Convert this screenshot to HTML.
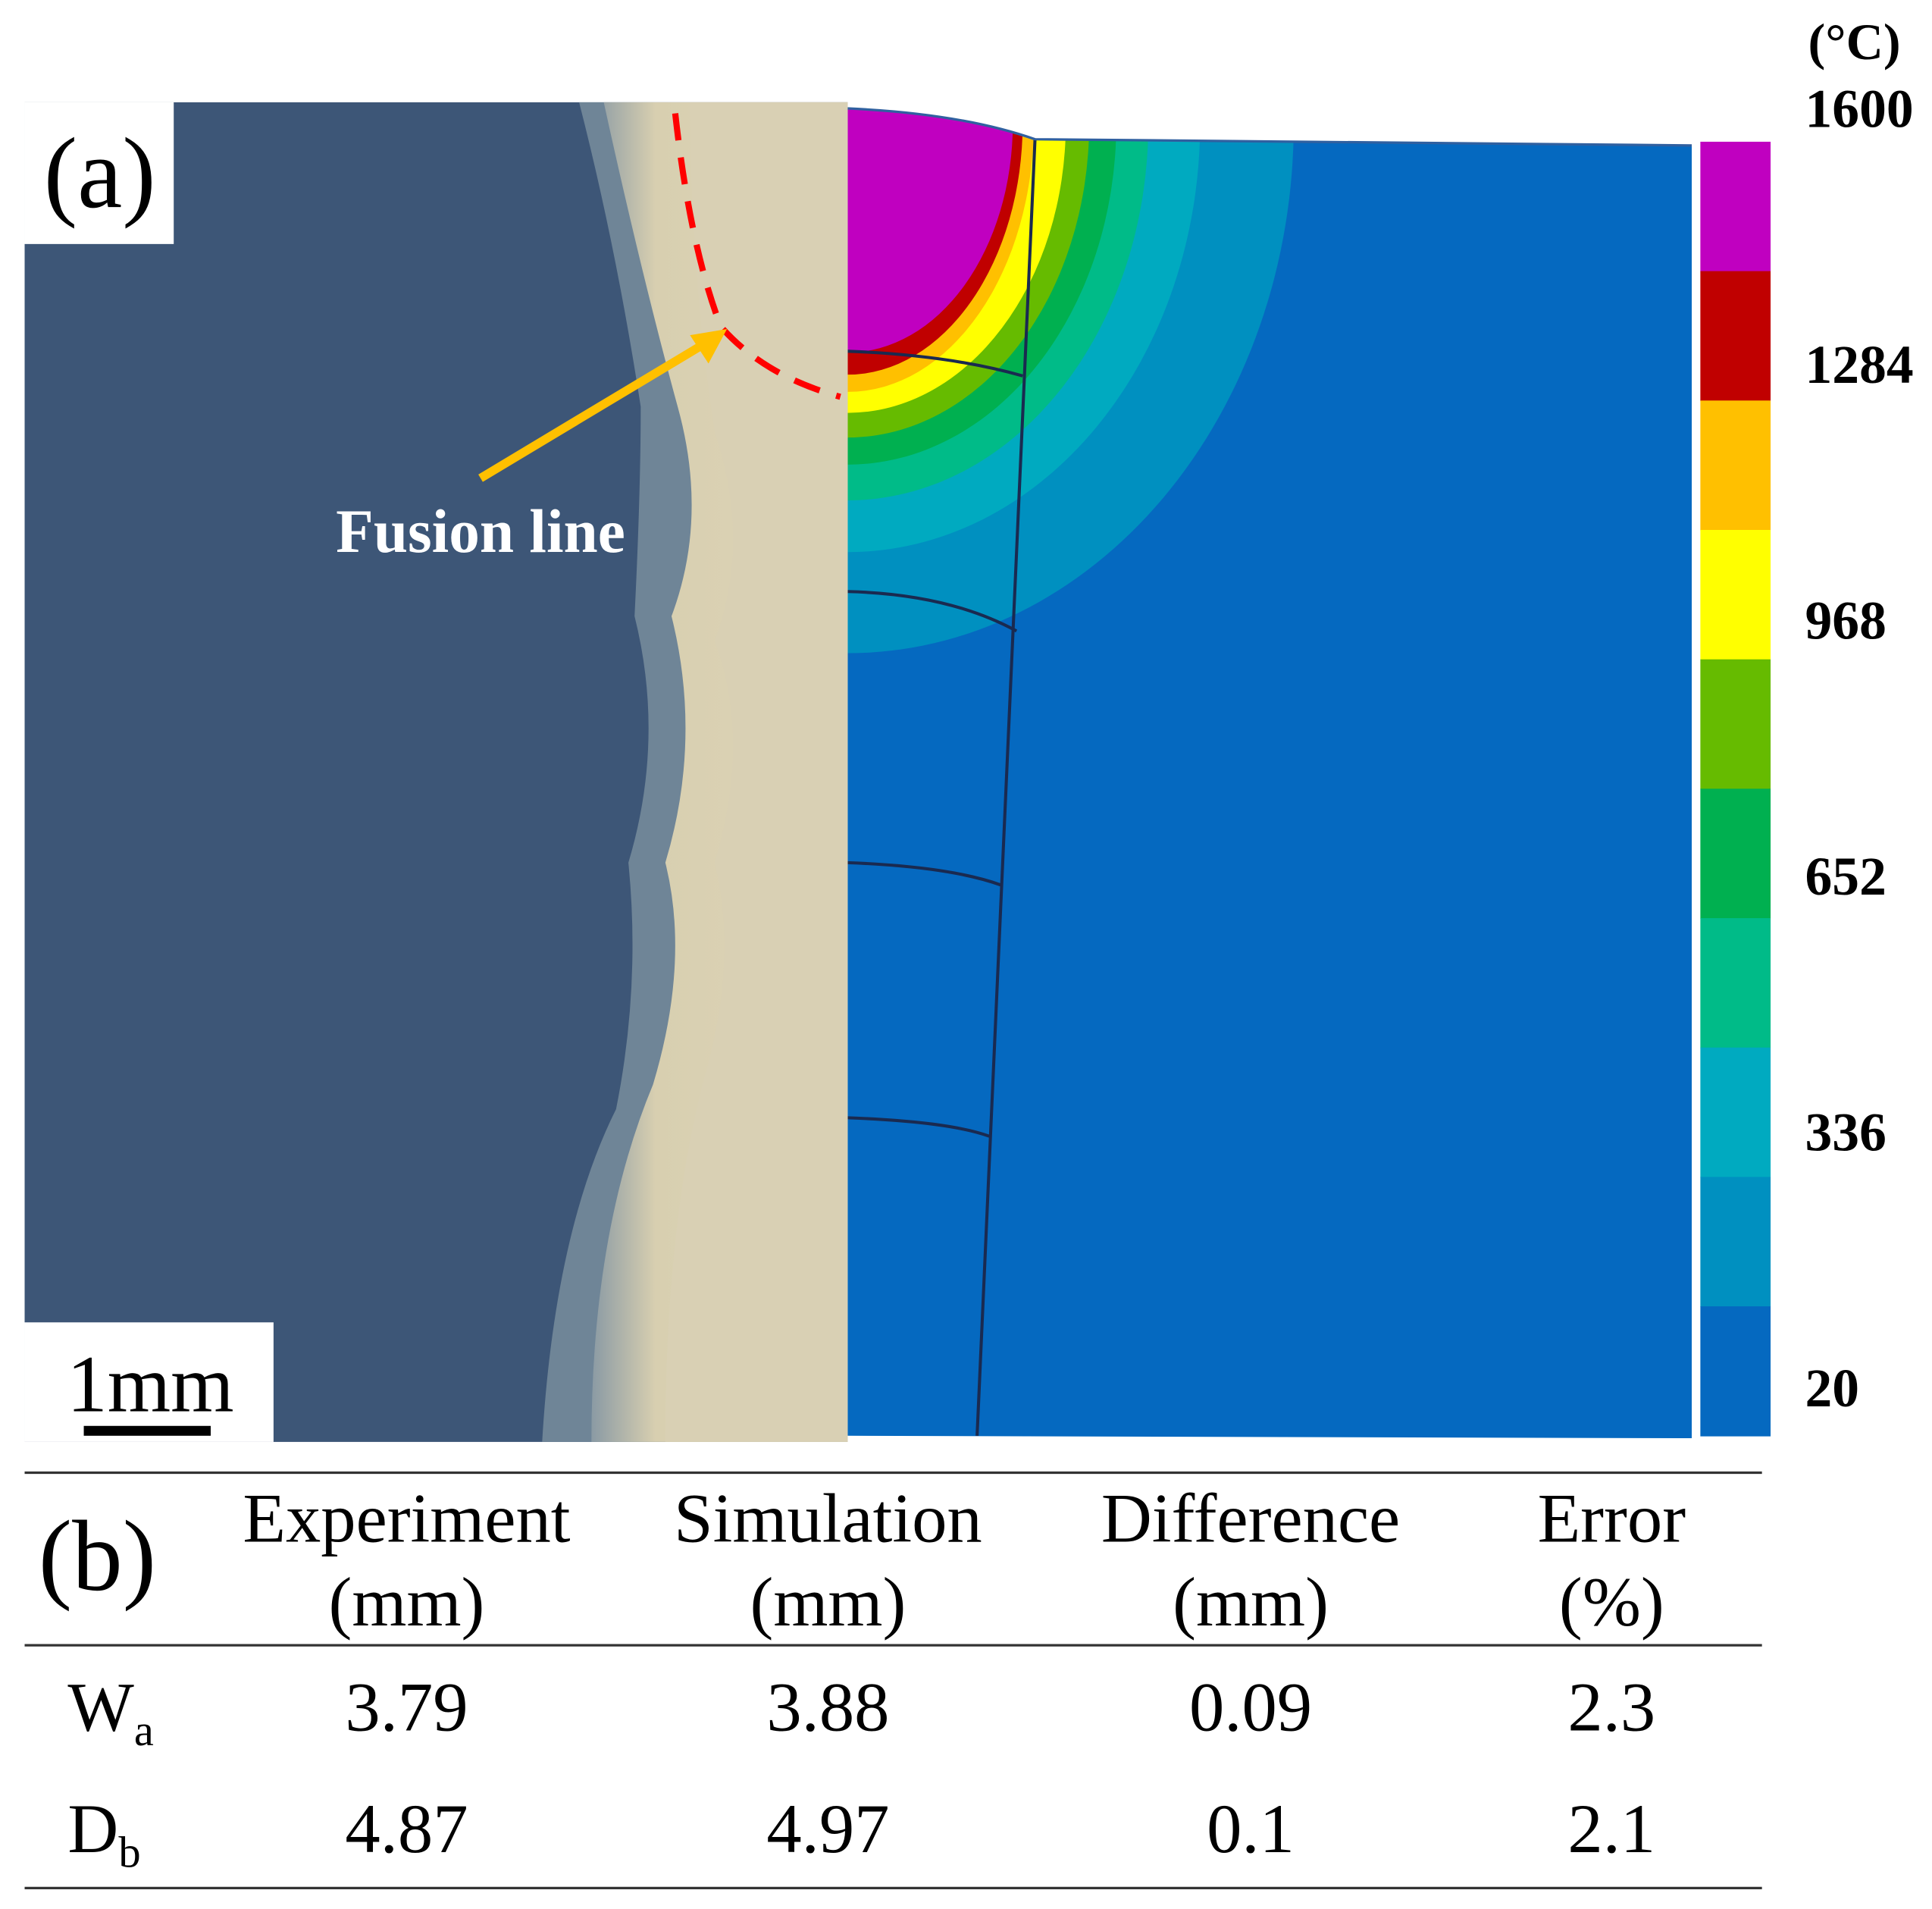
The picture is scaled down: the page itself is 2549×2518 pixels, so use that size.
<!DOCTYPE html>
<html><head><meta charset="utf-8"><style>
html,body{margin:0;padding:0;background:#fff;}
svg{display:block;}
text{font-family:"Liberation Serif",serif;}
</style></head><body>
<svg id="fig" width="2549" height="2518" viewBox="0 0 1568 1549" preserveAspectRatio="none" xmlns="http://www.w3.org/2000/svg">
<defs>
<clipPath id="simclip"><path d="M688,88 Q780,92 840,113 L1373,118 L1373,1167 L688,1165 Z"/></clipPath>
<linearGradient id="beige" x1="0" x2="1" y1="0" y2="0">
<stop offset="0" stop-color="#8a9aa4"/><stop offset="0.25" stop-color="#d8cfb0"/><stop offset="1" stop-color="#ddd4b8"/></linearGradient>
</defs>
<g>
<rect x="20" y="83" width="668" height="1087" fill="#3d5677"/>
<path d="M470,83 L688,83 L688,1170 L440,1170 Q450,1000 500,900 Q520,800 510,700 Q540,600 515,500 Q520,400 520,330 Q500,200 470,83 Z" fill="#6f8597"/>
<path d="M490,83 L688,83 L688,1170 L480,1170 Q480,1000 530,880 Q560,780 540,700 Q570,600 545,500 Q575,420 550,330 Q520,220 490,83 Z" fill="url(#beige)"/>
<path d="M560,83 L688,83 L688,1170 L540,1170 Q540,1000 570,880 Q600,780 580,700 Q610,600 580,520 Q610,440 580,350 Q560,220 560,83 Z" fill="#d9d0b4"/>
<path d="M548,92 Q560,200 585,265 Q620,305 682,322" fill="none" stroke="#ff0000" stroke-width="5" stroke-dasharray="22,14"/>
<line x1="390" y1="388" x2="570" y2="280" stroke="#ffc000" stroke-width="7"/>
<polygon points="590,267 560,272 575,295" fill="#ffc000"/>
<text x="390" y="448" font-size="50" font-weight="bold" fill="#fff" text-anchor="middle">Fusion line</text>
<rect x="20" y="83" width="121" height="115" fill="#fff"/>
<text x="81" y="168" font-size="82" text-anchor="middle">(a)</text>
<rect x="20" y="1073" width="202" height="97" fill="#fff"/>
<text x="122" y="1145" font-size="66" text-anchor="middle">1mm</text>
<rect x="68" y="1157" width="103" height="8" fill="#000"/>
</g>
<g clip-path="url(#simclip)">
<rect x="688" y="80" width="690" height="1090" fill="#0569c0"/>
<g id="contours"></g>
<g fill="none" stroke="#1a2a50" stroke-width="2.5">
<path d="M840,113 L793,1165"/>
<path d="M688,285 Q770,288 830,305"/>
<path d="M688,480 Q770,482 825,512"/>
<path d="M688,700 Q770,703 812,718"/>
<path d="M688,907 Q770,910 803,922"/>
</g>
</g>
<path d="M688,88 Q780,92 840,113 L1373,118" fill="none" stroke="#3060a0" stroke-width="2"/>
<g id="colorbar"></g>
<text x="1505" y="48" font-size="42" font-weight="bold" text-anchor="middle">(°C)</text>
<g id="table">
<line x1="20" y1="1195" x2="1430" y2="1195" stroke="#333" stroke-width="2"/>
<line x1="20" y1="1335" x2="1430" y2="1335" stroke="#333" stroke-width="2"/>
<line x1="20" y1="1532" x2="1430" y2="1532" stroke="#333" stroke-width="2"/>
<text x="79" y="1290" font-size="82" text-anchor="middle">(b)</text>
</g>
</svg>
<script>
const tickLabels=["1600","1284","968","652","336","20"];
const bandColors=["#c000c0","#c00000","#ffc000","#ffff00","#66bb00","#00b050","#00bb88","#00aac0","#0090c0","#0569c0"];
const contourRx=[362,286,244,218,196,177,151,142,134];
const contourRy=[430,348,306,277,255,235,218,204,186];
const headers=[["Experiment","(mm)"],["Simulation","(mm)"],["Difference","(mm)"],["Error","(%)"]];
const rowLabels=[["W","a"],["D","b"]];
const rowValues=[["3.79","3.88","0.09","2.3"],["4.87","4.97","0.1","2.1"]];
const NS="http://www.w3.org/2000/svg";
function mk(t,a,p){const e=document.createElementNS(NS,t);for(const k in a)e.setAttribute(k,a[k]);p.appendChild(e);return e;}
const cg=document.getElementById('contours');
for(let i=0;i<contourRx.length;i++){
 const el=mk('ellipse',{cx:688,cy:100,rx:contourRx[i],ry:contourRy[i],fill:bandColors[8-i]},cg);
 
 
}
const cb=document.getElementById('colorbar');
const cbTop=115,cbBot=1165,bh=(cbBot-cbTop)/bandColors.length;
bandColors.forEach((c,i)=>{
 const r=mk('rect',{x:1380,y:cbTop+i*bh,width:57,height:bh+0.5,fill:c},cb);
 
 
});
const labTop=88,labBot=1126;
tickLabels.forEach((t,i)=>{
 const y=labTop+(labBot-labTop)*i/(tickLabels.length-1)+15;
 const e=mk('text',{x:1465,y:y,'font-size':44,'font-weight':'bold'},cb);
 e.textContent=t;
 
 
});
const tb=document.getElementById('table');
const colX=[330,672,1015,1308];
headers.forEach((h,i)=>{
 h.forEach((s,j)=>{
  const e=mk('text',{x:colX[i],y:1251+j*68,'font-size':57,'text-anchor':'middle'},tb);
  e.textContent=s;
  
  
 });
});
const rowY=[1404,1503];
rowLabels.forEach((l,r)=>{
 const e=mk('text',{x:55,y:rowY[r],'font-size':57},tb);
 e.textContent=l[0];
 const s=mk('tspan',{'font-size':36,dy:12},e);
 s.textContent=l[1];
 
 
 rowValues[r].forEach((v,i)=>{
  const t=mk('text',{x:colX[i],y:rowY[r],'font-size':57,'text-anchor':'middle'},tb);
  t.textContent=v;
  
  
 });
});
</script>
</body></html>
